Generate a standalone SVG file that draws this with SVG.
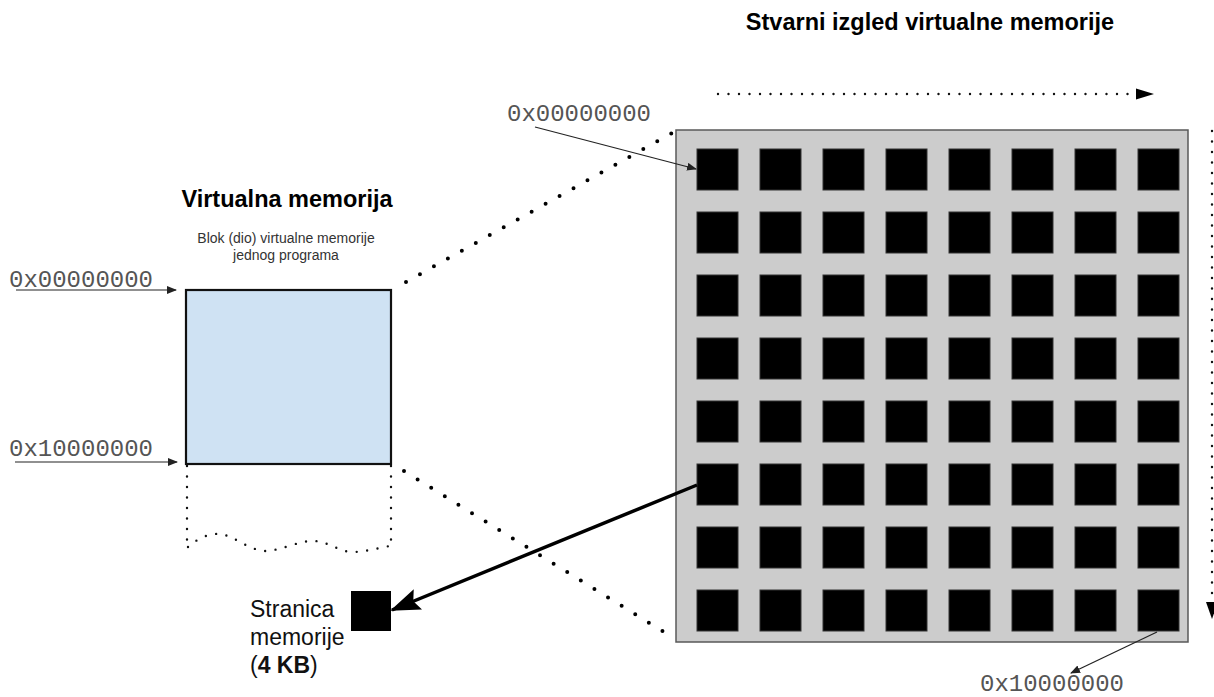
<svg xmlns="http://www.w3.org/2000/svg" width="1214" height="697" viewBox="0 0 1214 697">
<style>
.title{font-family:"Liberation Sans",Arial,sans-serif;font-weight:bold;font-size:23.5px;fill:#000}
.small{font-family:"Liberation Sans",Arial,sans-serif;font-size:14px;fill:#333}
.mono{font-family:"Liberation Mono","Courier New",monospace;font-size:24px;fill:#555}
.label{font-family:"Liberation Sans",Arial,sans-serif;font-size:23px;fill:#111}
.thin{stroke:#222;stroke-width:1.2;fill:none}
.dotsS{stroke:#111;stroke-width:2.4;stroke-linecap:round;stroke-dasharray:0 10.5;fill:none}
.dotsL{stroke:#000;stroke-width:4;stroke-linecap:round;stroke-dasharray:0 16;fill:none}
.cell{fill:#000;stroke:#333;stroke-width:1}
</style>
<defs>
<marker id="ah" markerUnits="userSpaceOnUse" markerWidth="10" markerHeight="8" refX="9" refY="4" orient="auto">
<path d="M0,0 L10,4 L0,8 Z" fill="#222"/>
</marker>
<marker id="big" markerUnits="userSpaceOnUse" markerWidth="30" markerHeight="22" refX="28" refY="11" orient="auto">
<path d="M0,0 L30,11 L0,22 L5,11 Z" fill="#000"/>
</marker>
</defs>

<g id="title-right"><text class="title" x="930" y="30" text-anchor="middle">Stvarni izgled virtualne memorije</text></g>
<g id="title-left"><text class="title" x="287" y="207" text-anchor="middle">Virtualna memorija</text></g>
<g id="subtitle"><text class="small" text-anchor="middle"><tspan x="286" y="243">Blok (dio) virtualne memorije</tspan><tspan x="286" y="260">jednog programa</tspan></text></g>

<g id="virtual-block">
<rect x="186" y="290" width="205" height="174" fill="#cfe2f3" stroke="#111" stroke-width="2.2"/>
<path class="dotsS" d="M187,466 L187,548 M391,466 L391,548"/>
<path class="dotsS" d="M188,547 C198,538 210,533 220,534 C235,536 248,550 265,551 C280,551 300,540 315,541 C330,542 340,553 355,552 C370,551 382,547 390,546"/>
</g>

<g id="label-left-top"><text class="mono" x="9" y="287">0x00000000</text></g>
<g id="label-left-bottom"><text class="mono" x="9" y="456">0x10000000</text></g>
<g id="label-right-top"><text class="mono" x="507" y="121">0x00000000</text></g>
<g id="label-right-bottom"><text class="mono" x="980" y="691">0x10000000</text></g>

<g id="memory-grid">
<rect x="676" y="130" width="512" height="512" fill="#cccccc" stroke="#595959" stroke-width="1.5"/>
<g id="pages">
<rect class="cell" x="697" y="149" width="41" height="41"/><rect class="cell" x="760" y="149" width="41" height="41"/><rect class="cell" x="823" y="149" width="41" height="41"/><rect class="cell" x="886" y="149" width="41" height="41"/><rect class="cell" x="949" y="149" width="41" height="41"/><rect class="cell" x="1012" y="149" width="41" height="41"/><rect class="cell" x="1075" y="149" width="41" height="41"/><rect class="cell" x="1138" y="149" width="41" height="41"/>
<rect class="cell" x="697" y="212" width="41" height="41"/><rect class="cell" x="760" y="212" width="41" height="41"/><rect class="cell" x="823" y="212" width="41" height="41"/><rect class="cell" x="886" y="212" width="41" height="41"/><rect class="cell" x="949" y="212" width="41" height="41"/><rect class="cell" x="1012" y="212" width="41" height="41"/><rect class="cell" x="1075" y="212" width="41" height="41"/><rect class="cell" x="1138" y="212" width="41" height="41"/>
<rect class="cell" x="697" y="275" width="41" height="41"/><rect class="cell" x="760" y="275" width="41" height="41"/><rect class="cell" x="823" y="275" width="41" height="41"/><rect class="cell" x="886" y="275" width="41" height="41"/><rect class="cell" x="949" y="275" width="41" height="41"/><rect class="cell" x="1012" y="275" width="41" height="41"/><rect class="cell" x="1075" y="275" width="41" height="41"/><rect class="cell" x="1138" y="275" width="41" height="41"/>
<rect class="cell" x="697" y="338" width="41" height="41"/><rect class="cell" x="760" y="338" width="41" height="41"/><rect class="cell" x="823" y="338" width="41" height="41"/><rect class="cell" x="886" y="338" width="41" height="41"/><rect class="cell" x="949" y="338" width="41" height="41"/><rect class="cell" x="1012" y="338" width="41" height="41"/><rect class="cell" x="1075" y="338" width="41" height="41"/><rect class="cell" x="1138" y="338" width="41" height="41"/>
<rect class="cell" x="697" y="401" width="41" height="41"/><rect class="cell" x="760" y="401" width="41" height="41"/><rect class="cell" x="823" y="401" width="41" height="41"/><rect class="cell" x="886" y="401" width="41" height="41"/><rect class="cell" x="949" y="401" width="41" height="41"/><rect class="cell" x="1012" y="401" width="41" height="41"/><rect class="cell" x="1075" y="401" width="41" height="41"/><rect class="cell" x="1138" y="401" width="41" height="41"/>
<rect class="cell" x="697" y="464" width="41" height="41"/><rect class="cell" x="760" y="464" width="41" height="41"/><rect class="cell" x="823" y="464" width="41" height="41"/><rect class="cell" x="886" y="464" width="41" height="41"/><rect class="cell" x="949" y="464" width="41" height="41"/><rect class="cell" x="1012" y="464" width="41" height="41"/><rect class="cell" x="1075" y="464" width="41" height="41"/><rect class="cell" x="1138" y="464" width="41" height="41"/>
<rect class="cell" x="697" y="527" width="41" height="41"/><rect class="cell" x="760" y="527" width="41" height="41"/><rect class="cell" x="823" y="527" width="41" height="41"/><rect class="cell" x="886" y="527" width="41" height="41"/><rect class="cell" x="949" y="527" width="41" height="41"/><rect class="cell" x="1012" y="527" width="41" height="41"/><rect class="cell" x="1075" y="527" width="41" height="41"/><rect class="cell" x="1138" y="527" width="41" height="41"/>
<rect class="cell" x="697" y="590" width="41" height="41"/><rect class="cell" x="760" y="590" width="41" height="41"/><rect class="cell" x="823" y="590" width="41" height="41"/><rect class="cell" x="886" y="590" width="41" height="41"/><rect class="cell" x="949" y="590" width="41" height="41"/><rect class="cell" x="1012" y="590" width="41" height="41"/><rect class="cell" x="1075" y="590" width="41" height="41"/><rect class="cell" x="1138" y="590" width="41" height="41"/>
</g>
</g>

<g id="page">
<rect x="351" y="591" width="40" height="40" fill="#000"/>
<text class="label"><tspan x="250" y="617">Stranica</tspan><tspan x="250" y="645">memorije</tspan><tspan x="250" y="673">(<tspan font-weight="bold">4 KB</tspan>)</tspan></text>
</g>

<g id="connectors">
<line class="thin" x1="16" y1="290" x2="176" y2="290" marker-end="url(#ah)"/>
<line class="thin" x1="15" y1="462" x2="177" y2="462" marker-end="url(#ah)"/>
<line class="thin" x1="535" y1="127" x2="696" y2="169" marker-end="url(#ah)"/>
<line class="thin" x1="1157" y1="632" x2="1071" y2="673" marker-end="url(#ah)"/>
<path class="dotsL" d="M406,282 L672,133"/>
<path class="dotsL" d="M404,471 L672,637"/>
<path class="dotsS" d="M718,94 L1134,94"/>
<path d="M1136,88.5 L1154,94 L1136,99.5 Z" fill="#000"/>
<path class="dotsS" d="M1212,131 L1212,600"/>
<path d="M1206,602 L1212,619 L1218,602 Z" fill="#000"/>
<line x1="697" y1="485" x2="392" y2="610" stroke="#000" stroke-width="3.5" marker-end="url(#big)"/>
</g>
</svg>
